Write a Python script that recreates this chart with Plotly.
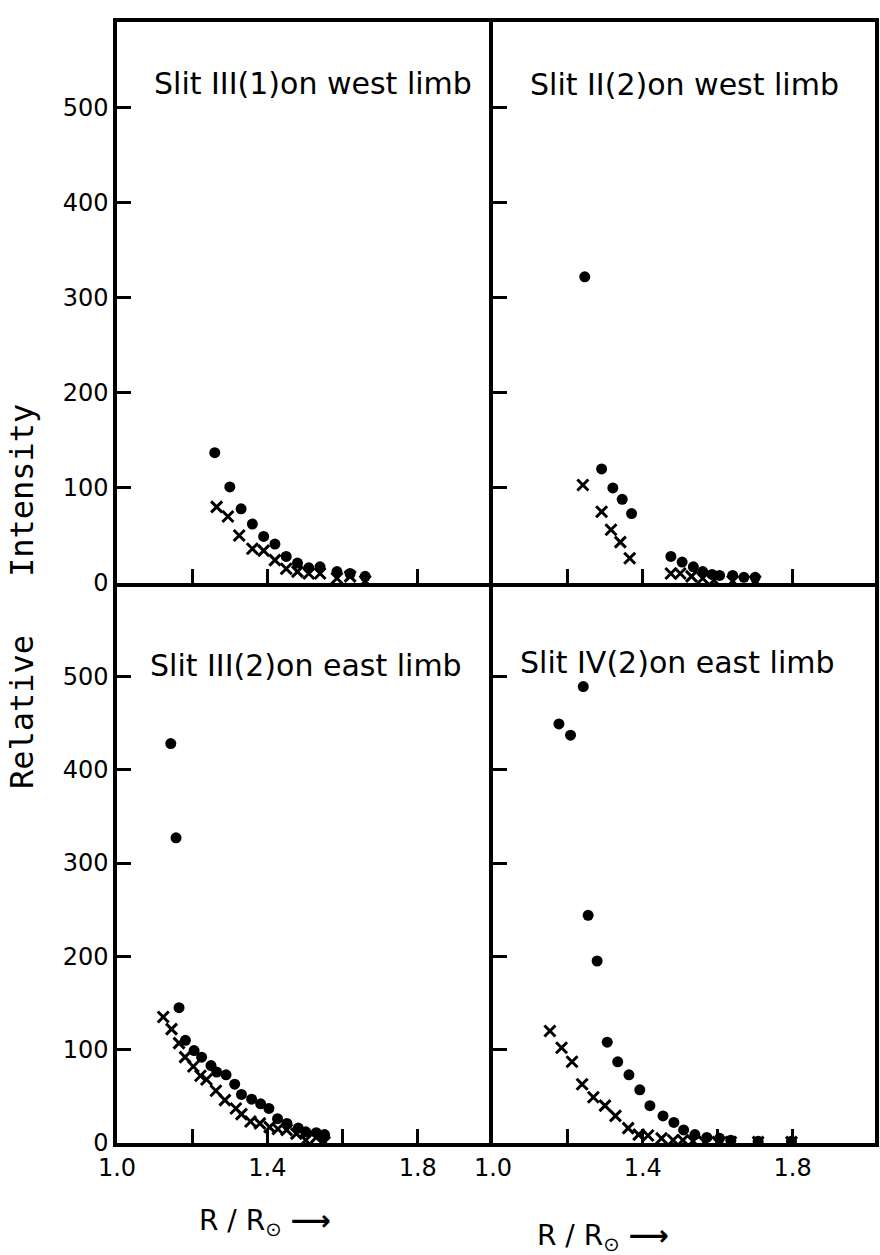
import plotly.graph_objects as go

# ---------------- data ----------------
# Slit III(1) on west limb (top-left)
tl_dot_x = [1.26, 1.30, 1.33, 1.36, 1.39, 1.42, 1.45, 1.48, 1.51, 1.54, 1.585, 1.62, 1.66]
tl_dot_y = [137, 101, 78, 62, 49, 41, 28, 21, 16, 17, 12, 10, 7]
tl_x_x = [1.265, 1.295, 1.325, 1.36, 1.39, 1.42, 1.45, 1.48, 1.51, 1.54, 1.585, 1.62, 1.66]
tl_x_y = [80, 70, 50, 36, 34, 24, 15, 12, 10, 10, 5, 7, 2]

# Slit II(2) on west limb (top-right)
tr_dot_x = [1.245, 1.29, 1.32, 1.345, 1.37, 1.475, 1.505, 1.535, 1.56, 1.585, 1.605, 1.64, 1.67, 1.70]
tr_dot_y = [322, 120, 100, 88, 73, 28, 22, 17, 12, 9, 8, 8, 6, 6]
tr_x_x = [1.24, 1.29, 1.315, 1.34, 1.365, 1.475, 1.50, 1.53, 1.56, 1.59, 1.64, 1.70]
tr_x_y = [103, 75, 56, 43, 26, 10, 10, 7, 5, 3, 2, 2]

# Slit III(2) on east limb (bottom-left)
bl_dot_x = [1.143, 1.157, 1.165, 1.182, 1.205, 1.225, 1.25, 1.265, 1.29, 1.313, 1.331, 1.358,
            1.382, 1.404, 1.427, 1.452, 1.482, 1.502, 1.53, 1.552]
bl_dot_y = [428, 327, 145, 110, 99, 92, 83, 76, 73, 63, 52, 47, 42, 37, 26, 21, 16, 12, 11, 9]
bl_x_x = [1.123, 1.145, 1.165, 1.181, 1.203, 1.222, 1.238, 1.263, 1.287, 1.316, 1.331, 1.355,
          1.38, 1.406, 1.428, 1.451, 1.477, 1.502, 1.53, 1.552]
bl_x_y = [135, 122, 107, 92, 82, 72, 68, 56, 46, 37, 31, 23, 21, 17, 15, 14, 10, 3, 6, 1]

# Slit IV(2) on east limb (bottom-right)
br_dot_x = [1.176, 1.207, 1.241, 1.254, 1.278, 1.305, 1.333, 1.363, 1.392, 1.419, 1.454, 1.483,
            1.509, 1.539, 1.571, 1.605, 1.635, 1.708, 1.797]
br_dot_y = [449, 437, 489, 244, 195, 108, 87, 73, 57, 40, 29, 22, 14, 9, 6, 5, 3, 2, 2]
br_x_x = [1.152, 1.183, 1.211, 1.238, 1.268, 1.299, 1.327, 1.361, 1.389, 1.414, 1.45, 1.481,
          1.507, 1.534, 1.565, 1.60, 1.635, 1.708, 1.797]
br_x_y = [120, 102, 87, 63, 49, 40, 29, 16, 9, 8, 5, 3, 3, 2, 1, 1, 1, 1, 1]

panel_titles = ["Slit III(1)on west limb", "Slit II(2)on west limb",
                "Slit III(2)on east limb", "Slit IV(2)on east limb"]
y_ticks = [0, 100, 200, 300, 400, 500]
x_ticks_top = [1.2, 1.4, 1.8]
x_major_bottom = [1.0, 1.4, 1.8]
x_major_text = ["1.0", "1.4", "1.8"]
x_minor_bottom = [1.2, 1.6]

# ---------------- figure ----------------
W, H = 880, 1255
FONT = "DejaVu Sans"


def px_x(p):
    return p / W


def px_y(p):
    return 1 - p / H


fig = go.Figure()

panels = [
    ("x", "y", tl_dot_x, tl_dot_y, tl_x_x, tl_x_y),
    ("x2", "y2", tr_dot_x, tr_dot_y, tr_x_x, tr_x_y),
    ("x3", "y3", bl_dot_x, bl_dot_y, bl_x_x, bl_x_y),
    ("x4", "y4", br_dot_x, br_dot_y, br_x_x, br_x_y),
]
for xa, ya, dx, dy, cx, cy in panels:
    fig.add_trace(go.Scatter(x=dx, y=dy, xaxis=xa, yaxis=ya, mode="markers",
                             marker=dict(symbol="circle", size=11, color="black"),
                             hoverinfo="x+y"))
    fig.add_trace(go.Scatter(x=cx, y=cy, xaxis=xa, yaxis=ya, mode="markers",
                             marker=dict(symbol="x-thin", size=11, color="black",
                                         line=dict(width=3, color="black")),
                             hoverinfo="x+y"))

left_dom = [px_x(117), px_x(493)]
right_dom = [px_x(493), px_x(875)]
top_dom = [px_y(583), px_y(22)]
bot_dom = [px_y(1143), px_y(583)]

axis_common = dict(showline=True, linewidth=3.5, linecolor="black", automargin=False,
                   showgrid=False, zeroline=False, ticks="inside", ticklen=14,
                   tickwidth=2.5, tickcolor="black",
                   tickfont=dict(family=FONT, size=24, color="black"))

minor_bottom = dict(tickvals=x_minor_bottom, ticks="inside", ticklen=14,
                    tickwidth=2.5, tickcolor="black", showgrid=False)

fig.update_layout(
    width=W, height=H, margin=dict(l=0, r=0, t=0, b=0, autoexpand=False),
    paper_bgcolor="white", plot_bgcolor="white", showlegend=False,
    xaxis=dict(domain=left_dom, range=[1.0, 2.0], anchor="y", tickvals=x_ticks_top,
               showticklabels=False, mirror=True, **axis_common),
    yaxis=dict(domain=top_dom, range=[0, 590], anchor="x", tickvals=y_ticks,
               showticklabels=True, mirror=False, **axis_common),
    xaxis2=dict(domain=right_dom, range=[1.0, 2.02], anchor="y2", tickvals=x_ticks_top,
                showticklabels=False, mirror=True, **axis_common),
    yaxis2=dict(domain=top_dom, range=[0, 590], anchor="x2", tickvals=y_ticks,
                showticklabels=False, mirror=True, **axis_common),
    xaxis3=dict(domain=left_dom, range=[1.0, 2.0], anchor="y3", tickvals=x_major_bottom,
                ticktext=x_major_text, minor=minor_bottom, showticklabels=True,
                mirror=False, **axis_common),
    yaxis3=dict(domain=bot_dom, range=[0, 600], anchor="x3", tickvals=y_ticks,
                showticklabels=True, mirror=False, **axis_common),
    xaxis4=dict(domain=right_dom, range=[1.0, 2.02], anchor="y4", tickvals=x_major_bottom,
                ticktext=x_major_text, minor=minor_bottom, showticklabels=True,
                mirror=False, **axis_common),
    yaxis4=dict(domain=bot_dom, range=[0, 600], anchor="x4", tickvals=y_ticks,
                showticklabels=False, mirror=True, **axis_common),
)

title_pos = [(152, 83), (528, 85), (148, 665), (518, 662)]
for (tx, ty), t in zip(title_pos, panel_titles):
    fig.add_annotation(x=px_x(tx), y=px_y(ty), xref="paper", yref="paper", text=t,
                       showarrow=False, xanchor="left", yanchor="middle",
                       font=dict(family=FONT, size=30, color="black"))

fig.add_annotation(x=px_x(22), y=px_y(597), xref="paper", yref="paper",
                   text="Relative   Intensity", textangle=-90, showarrow=False,
                   xanchor="center", yanchor="middle",
                   font=dict(family="DejaVu Sans Mono", size=32, color="black"))

for cx, cy in [(265, 1222), (603, 1237)]:
    fig.add_annotation(x=px_x(cx), y=px_y(cy), xref="paper", yref="paper",
                       text="R / R<sub>⊙</sub> <b>⟶</b>", showarrow=False,
                       xanchor="center", yanchor="middle",
                       font=dict(family=FONT, size=28, color="black"))

fig.write_html("out.html")
